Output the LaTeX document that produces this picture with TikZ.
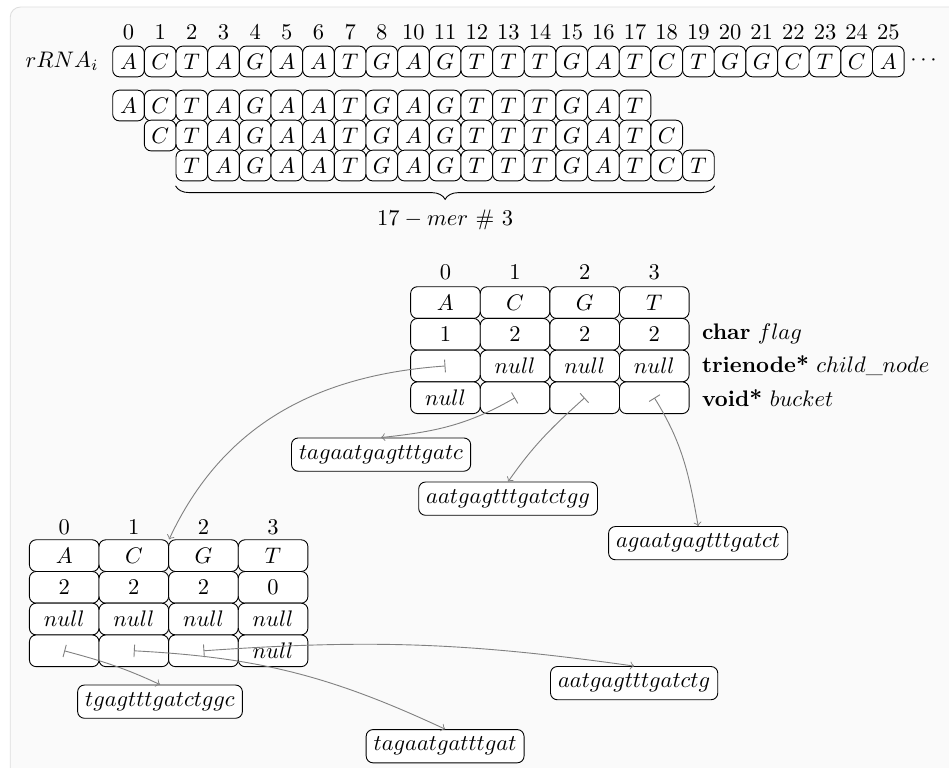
\documentclass[tikz,border=0pt]{standalone}
\usepackage{amsmath}
\usepackage{tikz}
\usetikzlibrary{decorations.pathreplacing}
\definecolor{paper}{RGB}{250, 250, 250}
\definecolor{paperedge}{RGB}{222, 222, 222}
\definecolor{pointer}{RGB}{128, 128, 128}
\tikzset{
    cellbase/.style = {draw, fill=white, rounded corners=3pt, inner sep=0pt},
    nuc/.style      = {cellbase, minimum width=0.494cm, minimum height=0.48cm},
    slot/.style     = {cellbase, minimum width=1.087cm, minimum height=0.495cm},
    kmer/.style     = {draw, fill=white, rounded corners=3pt},
    ptr/.style      = {draw=pointer, |->},
}
\begin{document}
\begin{tikzpicture}
            \useasboundingbox                                             (0.00, 0.00) rectangle (14.82,-11.98);
            \fill[paper, draw=paperedge, rounded corners=4.5pt]           (0.16,-0.11) rectangle (15.50,-12.60);
            \node (rna)  at ( 0.97,-0.96) {$rRNA_i$};
            \node (dots) at (14.45,-0.95) {$\cdots$};
            \foreach \b [count=\i from 0] in {A,C,T,A,G,A,A,T,G,A,G,T,T,T,G,A,T,C,T,G,G,C,T,C,A}
                \node[nuc] (r\i) at (2.007+0.4944*\i,-0.96) {$\b$};
            \foreach \n [count=\i from 0] in {0,1,2,3,4,5,6,7,8,10,11,12,13,14,15,16,17,18,19,20,21,22,23,24,25}
                \node (ri\i) at (2.007+0.4944*\i,-0.50) {\n};
            \foreach \seq [count=\r from 0] in {{A,C,T,A,G,A,A,T,G,A,G,T,T,T,G,A,T},{C,T,A,G,A,A,T,G,A,G,T,T,T,G,A,T,C},{T,A,G,A,A,T,G,A,G,T,T,T,G,A,T,C,T}}
                \foreach \b [count=\i from 0] in \seq
                    \node[nuc] (k\r-\i) at (2.007+0.4944*\i+0.4944*\r,-1.648-0.4685*\r) {$\b$};
            \draw[decorate, decoration={brace, mirror, amplitude=6pt, raise=2pt}]
                 (k2-0.south west) -- (k2-16.south east) node[midway, below=9pt] (mer) {$17-mer\ \#\ 3$};
            \foreach \v [count=\j from 0] in {A,C,G,T} {
                \node       (ai\j)  at (6.956+1.0872*\j,-4.249) {\j};
                \node[slot] (a-0-\j) at (6.956+1.0872*\j,-4.725) {$\v$};
                \node       (bi\j)  at (1.003+1.0872*\j,-8.227) {\j};
                \node[slot] (b-0-\j) at (1.003+1.0872*\j,-8.677) {$\v$};
            }
            \foreach \v [count=\j from 0] in {1,2,2,2}
                \node[slot] (a-1-\j) at (6.956+1.0872*\j,-5.220) {$\v$};
            \foreach \v [count=\j from 0] in {{},{$null$},{$null$},{$null$}}
                \node[slot] (a-2-\j) at (6.956+1.0872*\j,-5.715) {\v};
            \foreach \v [count=\j from 0] in {{$null$},{},{},{}}
                \node[slot] (a-3-\j) at (6.956+1.0872*\j,-6.211) {\v};
            \foreach \v [count=\j from 0] in {2,2,2,0}
                \node[slot] (b-1-\j) at (1.003+1.0872*\j,-9.172) {$\v$};
            \foreach \v [count=\j from 0] in {{$null$},{$null$},{$null$},{$null$}}
                \node[slot] (b-2-\j) at (1.003+1.0872*\j,-9.667) {\v};
            \foreach \v [count=\j from 0] in {{},{},{},{$null$}}
                \node[slot] (b-3-\j) at (1.003+1.0872*\j,-10.163) {\v};
            \node[anchor=west, xshift=2pt] (lflag)   at (a-1-3.east) {\textbf{char} $flag$};
            \node[anchor=west, xshift=2pt] (lchild)  at (a-2-3.east) {\textbf{trienode*} $child\_node$};
            \node[anchor=west, xshift=2pt] (lbucket) at (a-3-3.east) {\textbf{void*} $bucket$};
            \node[kmer] (s1) at ( 5.951, -7.099) {$tagaatgagtttgatc$};
            \node[kmer] (s2) at ( 7.935, -7.787) {$aatgagtttgatctgg$};
            \node[kmer] (s3) at (10.903, -8.482) {$agaatgagtttgatct$};
            \node[kmer] (s4) at ( 2.499,-10.957) {$tgagtttgatctggc$};
            \node[kmer] (s5) at ( 6.951,-11.653) {$tagaatgatttgat$};
            \node[kmer] (s6) at ( 9.903,-10.668) {$aatgagtttgatctg$};
            \draw[ptr] (a-2-0.center) to[out=184, in=65]  (b-0-1.north east);
            \draw[ptr] (a-3-1.center) to[out=210, in=6]   (s1.north);
            \draw[ptr] (a-3-2.center) to[out=222, in=55]  (s2.north);
            \draw[ptr] (a-3-3.center) to[out=-58, in=100] (s3.north);
            \draw[ptr] (b-3-0.center) to[out=-15, in=155] (s4.north);
            \draw[ptr] (b-3-1.center) to[out=-3,  in=155] (s5.north);
            \draw[ptr] (b-3-2.center) to[out=4,   in=172] (s6.north);
\end{tikzpicture}
\end{document}
